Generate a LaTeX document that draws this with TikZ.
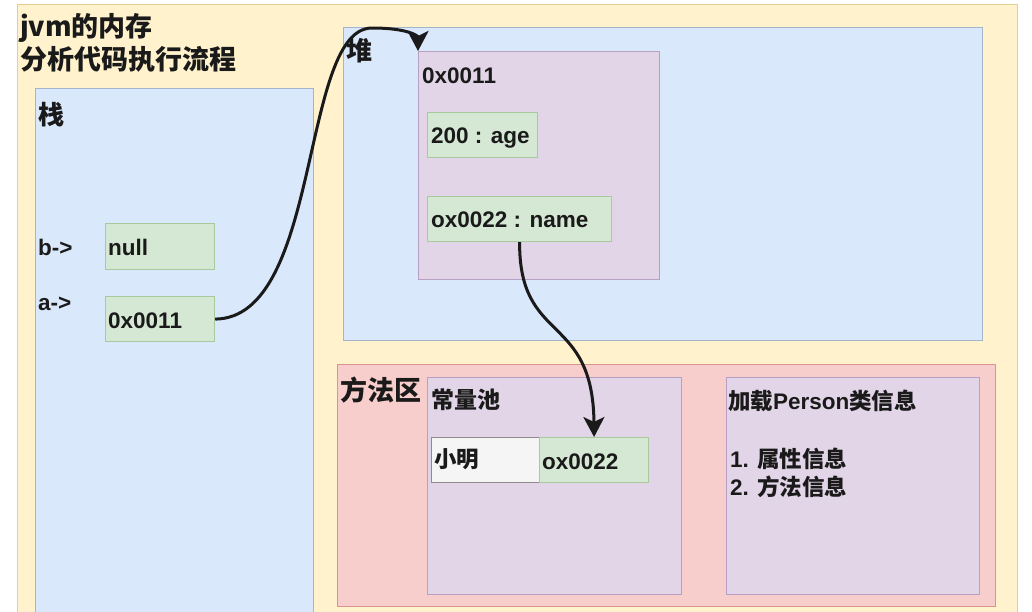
\documentclass[tikz,border=0pt]{standalone}
\usepackage{fontspec}
\setmainfont{Liberation Sans}
\newfontfamily\cjk{Noto Sans CJK SC}
\usetikzlibrary{arrows.meta, positioning}

\definecolor{bgyellow}{HTML}{FFF2CC}
\definecolor{bgline}{HTML}{E3CF94}
\definecolor{areablue}{HTML}{DAE8FC}
\definecolor{blueline}{HTML}{A3B5CC}
\definecolor{objpurple}{HTML}{E1D5E7}
\definecolor{purpleline}{HTML}{B7A0C3}
\definecolor{valgreen}{HTML}{D5E8D4}
\definecolor{greenline}{HTML}{A8C99E}
\definecolor{methodred}{HTML}{F8CECC}
\definecolor{redline}{HTML}{D99390}
\definecolor{cellgrey}{HTML}{F5F5F5}
\definecolor{greyline}{HTML}{8C8C8C}
\definecolor{ink}{HTML}{1A1A1A}

\begin{document}
\begin{tikzpicture}[x=1pt, y=-1pt,
  area/.style={rectangle, draw, line width=1.2pt, anchor=north west, inner sep=0pt},
  cell/.style={area, fill=valgreen, draw=greenline},
  txt/.style={anchor=base west, inner sep=0pt, text=ink, font=\bfseries\fontsize{22.5}{26}\selectfont},
  big/.style={txt, font=\cjk\bfseries\fontsize{26}{30}\selectfont},
  link/.style={draw=ink, line width=3pt, -{Stealth[length=20pt, width=21pt, inset=5pt]}}
]
\useasboundingbox[fill=white] (0,0) rectangle (1032,611);

% outer area
\node[area, fill=bgyellow, draw=bgline, minimum width=1000pt, minimum height=610pt] (bg) at (17,4) {};
\node[big, font=\cjk\bfseries\fontsize{27}{30}\selectfont] (title1) at (20,36) {jvm的内存};
\node[big, font=\cjk\bfseries\fontsize{27}{30}\selectfont] (title2) at (20,69) {分析代码执行流程};

% stack
\node[area, fill=areablue, draw=blueline, minimum width=278pt, minimum height=530pt] (stack) at (35,88) {};
\node[big] (stacklbl) at (38,124) {栈};
\node[txt] (bvar) at (38,255) {b->};
\node[txt] (avar) at (38,310) {a->};
\node[cell, minimum width=109pt, minimum height=46pt] (bnull) at (105,223) {};
\node[txt] (bnulltxt) at (108,255) {null};
\node[cell, minimum width=109pt, minimum height=45pt] (aref) at (105,296) {};
\node[txt] (areftxt) at (108,328) {0x0011};

% heap
\node[area, fill=areablue, draw=blueline, minimum width=639pt, minimum height=313pt] (heap) at (343,27) {};
\node[big] (heaplbl) at (346,60) {堆};
\node[area, fill=objpurple, draw=purpleline, minimum width=241pt, minimum height=228pt] (obj) at (418,51) {};
\node[txt] (objaddr) at (422,83) {0x0011};
\node[cell, minimum width=110pt, minimum height=45pt] (age) at (427,112) {};
\node[txt] (agetxt) at (431,143) {200 : age};
\node[cell, minimum width=184pt, minimum height=45pt] (name) at (427,196) {};
\node[txt] (nametxt) at (431,227) {ox0022 : name};

% method area
\node[area, fill=methodred, draw=redline, minimum width=658pt, minimum height=242pt] (method) at (337,364) {};
\node[big, font=\cjk\bfseries\fontsize{27}{30}\selectfont] (methodlbl) at (340,400) {方法区};
\node[area, fill=objpurple, draw=purpleline, minimum width=254pt, minimum height=217pt] (pool) at (427,377) {};
\node[txt, font=\cjk\bfseries\fontsize{23}{27}\selectfont] (poollbl) at (431,408) {常量池};
\node[area, fill=cellgrey, draw=greyline, minimum width=108pt, minimum height=45pt] (xiaoming) at (431,437) {};
\node[txt, font=\cjk\bfseries\fontsize{22.5}{26}\selectfont] (xiaomingtxt) at (434,467) {小明};
\node[cell, minimum width=109pt, minimum height=45pt] (strval) at (539,437) {};
\node[txt] (strvaltxt) at (542,469) {ox0022};
\node[area, fill=objpurple, draw=purpleline, minimum width=253pt, minimum height=217pt] (cls) at (726,377) {};
\node[txt] (clslbl) at (728,409) {{\cjk 加载}Person{\cjk 类信息}};
\node[txt] (clsattr) at (730,467) {1. {\cjk 属性信息}};
\node[txt] (clsmeth) at (730,495) {2. {\cjk 方法信息}};

% references
\draw[link] (aref.east) .. controls (322,318) and (300,28) .. (372,28)
  .. controls (408,28) and (418,36) .. (obj.north west);
\draw[link] (name.south) .. controls (519,345) and (593,312) .. (strval.north);
\end{tikzpicture}
\end{document}
